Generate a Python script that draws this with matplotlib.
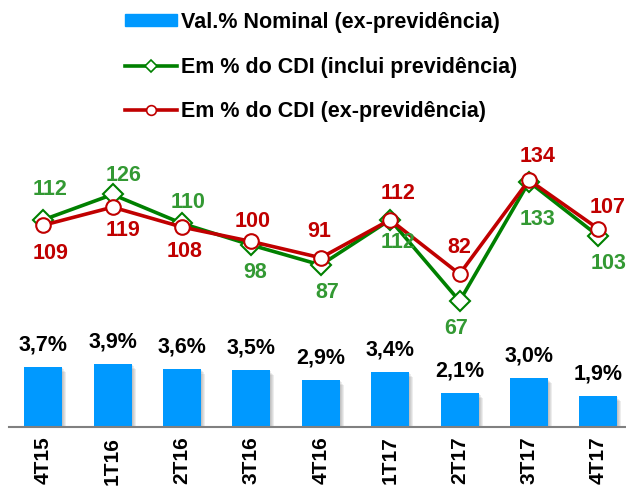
import matplotlib.pyplot as plt
from matplotlib.lines import Line2D
from matplotlib.patches import Patch

#------------------------------------------------------------#
# data                                                       #
#------------------------------------------------------------#

quarters = ['4T15', '1T16', '2T16', '3T16', '4T16', '1T17', '2T17', '3T17', '4T17']
val_nominal = [3.7, 3.9, 3.6, 3.5, 2.9, 3.4, 2.1, 3.0, 1.9]
cdi_inclui = [112, 126, 110, 98, 87, 112, 67, 133, 103]
cdi_ex = [109, 119, 108, 100, 91, 112, 82, 134, 107]

# label offsets in pixels (dx, dy)
green_dx = [7, 11, 6, 4, 7, 8, -3, 9, 10]
green_dy = [30, 19, 21, -27, -27, -23, -27, -38, -27]
red_dx = [7, 10, 3, 1, -2, 8, 0, 9, 9]
red_dy = [-28, -23, -24, 20, 26, 26, 27, 24, 21]

BLUE = '#0099ff'
GREEN_LINE = '#008000'
GREEN_TXT = '#339933'
RED = '#c00000'

plt.rcParams['font.family'] = ['Liberation Sans', 'DejaVu Sans']
plt.rcParams['font.weight'] = 'bold'

fig = plt.figure(figsize=(6.26, 4.88), dpi=100)
ax = fig.add_axes([8.5 / 626, 61 / 488, 617.5 / 626, 297 / 488])
x = list(range(len(quarters)))

#------------------------------------------------------------#
# bars                                                       #
#------------------------------------------------------------#

for k in range(1, 5):
    ax.bar([i + k / 69.4 for i in x], [v - k * 0.08 for v in val_nominal],
           width=0.55, color='#555555', alpha=0.10, zorder=1)
ax.bar(x, val_nominal, width=0.55, color=BLUE, zorder=2)
for i, v in zip(x, val_nominal):
    ax.annotate(f'{v:.1f}%'.replace('.', ','), (i, v), xytext=(0, 22),
                textcoords='offset pixels', ha='center', va='center',
                fontsize=15.5, fontweight='bold', color='black')

ax.set_xlim(-0.5, 8.398)
ax.set_ylim(0, 297 / 16.25)
ax.set_yticks([])
for pos in ['right', 'top', 'left']:
    ax.spines[pos].set_visible(False)
ax.spines['bottom'].set_color('#808080')
ax.spines['bottom'].set_linewidth(1.5)
ax.set_xticks(x)
ax.set_xticklabels(quarters, rotation=90, fontsize=15, fontweight='bold')
ax.tick_params(axis='x', length=0, pad=7)

#------------------------------------------------------------#
# lines                                                      #
#------------------------------------------------------------#

ax2 = ax.twinx()
ax2.set_ylim(-2.6, -2.6 + 297 / 1.808)
ax2.axis('off')

ax2.plot(x, cdi_inclui, color=GREEN_LINE, lw=2.6, marker='D', ms=10.5,
         mfc='white', mec=GREEN_LINE, mew=1.5, zorder=3)
ax2.plot(x, cdi_ex, color=RED, lw=2.6, marker='o', ms=10.5,
         mfc='white', mec=RED, mew=1.5, zorder=4)

for i, v, dx, dy in zip(x, cdi_inclui, green_dx, green_dy):
    ax2.annotate(str(v), (i, v), xytext=(dx, dy), textcoords='offset pixels',
                 ha='center', va='center', fontsize=15.5, fontweight='bold',
                 color=GREEN_TXT, zorder=5)
for i, v, dx, dy in zip(x, cdi_ex, red_dx, red_dy):
    ax2.annotate(str(v), (i, v), xytext=(dx, dy), textcoords='offset pixels',
                 ha='center', va='center', fontsize=15.5, fontweight='bold',
                 color=RED, zorder=5)

#------------------------------------------------------------#
# legend                                                     #
#------------------------------------------------------------#

handles = [Patch(color=BLUE),
           Line2D([], [], color=GREEN_LINE, lw=2.6, marker='D', ms=6,
                  mfc='white', mec=GREEN_LINE, mew=1.2),
           Line2D([], [], color=RED, lw=2.6, marker='o', ms=7,
                  mfc='white', mec=RED, mew=1.2)]
labels = ['Val.% Nominal (ex-previdência)',
          'Em % do CDI (inclui previdência)',
          'Em % do CDI (ex-previdência)']
fig.legend(handles, labels, loc='upper left', bbox_to_anchor=(125 / 626, 1 - 12 / 488),
           frameon=False, prop={'size': 15.5, 'weight': 'bold'}, borderpad=0,
           handlelength=2.4, handleheight=0.5, handletextpad=0.22,
           labelspacing=1.1, borderaxespad=0)

fig.savefig('out.png', dpi=100)
